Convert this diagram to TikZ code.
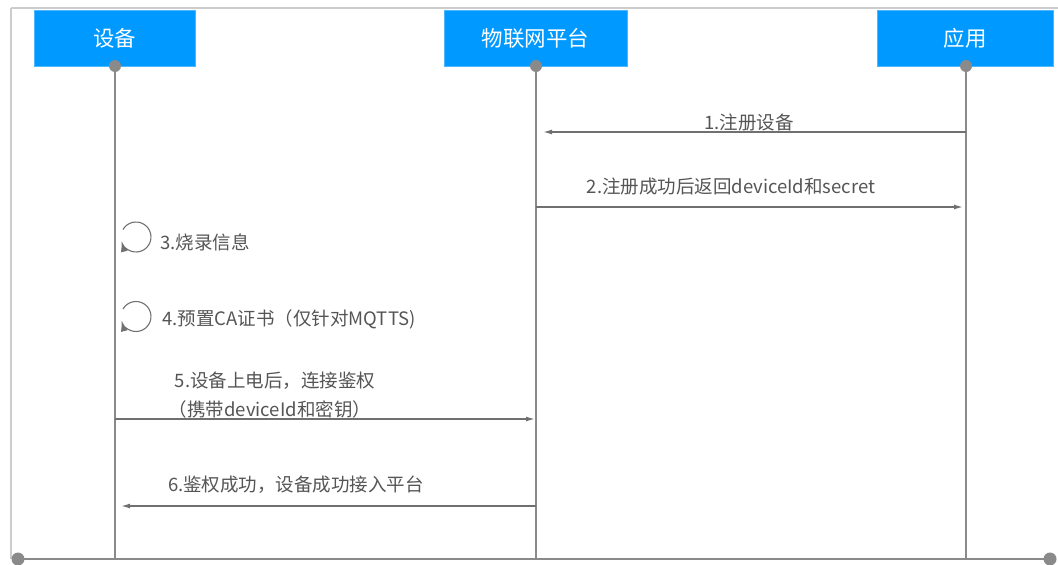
\documentclass[tikz,border=0pt]{standalone}
\usepackage{fontspec}
\setmainfont{Noto Sans CJK SC}
\usetikzlibrary{arrows.meta}
\definecolor{boxblue}{HTML}{0099FF}
\definecolor{lifegray}{HTML}{8A8A8A}
\definecolor{arrgray}{HTML}{707070}
\definecolor{txtgray}{HTML}{555555}
\definecolor{framegray}{HTML}{CCCCCC}
\tikzset{
  actor/.style={fill=boxblue, draw=boxblue!70!white, line width=0.6pt, text=white, font=\fontsize{21.5}{25}\selectfont, inner sep=0pt},
  lifeline/.style={draw=lifegray, line width=2.4pt},
  dotmark/.style={fill=lifegray, draw=none},
  msg/.style={draw=arrgray, line width=1.4pt, -{Latex[length=9pt,width=5pt]}},
  loopmsg/.style={draw=arrgray, line width=1.1pt, -{Latex[length=11pt,width=7pt]}},
  lbl/.style={text=txtgray, font=\fontsize{18.5}{22}\selectfont, inner sep=0pt, align=center},
  frameline/.style={draw=framegray, line width=2pt},
}
\begin{document}
\begin{tikzpicture}[x=1pt,y=-1pt]
\useasboundingbox (0,0) rectangle (1058,565);
% frame
\draw[frameline] (10.5,7.5) -- (1058,7.5);
\draw[frameline] (10.5,7.5) -- (10.5,559);
% actors
\node[actor, minimum width=161pt, minimum height=56pt] (dev) at (114.5,38) {设备};
\node[actor, minimum width=183pt, minimum height=56pt] (plat) at (535.5,38) {物联网平台};
\node[actor, minimum width=176pt, minimum height=56pt] (app) at (965,38) {应用};
% lifeline ends
\coordinate (devtop) at (115,66);
\coordinate (plattop) at (536,66);
\coordinate (apptop) at (966,66);
\coordinate (devbot) at (115,559);
\coordinate (platbot) at (536,559);
\coordinate (appbot) at (966,559);
\coordinate (bl) at (18,559);
\coordinate (br) at (1050,559);
\draw[lifeline] (devtop) -- (devbot);
\draw[lifeline] (plattop) -- (platbot);
\draw[lifeline] (apptop) -- (appbot);
\draw[lifeline] (bl) -- (br);
\foreach \p in {devtop,plattop,apptop} \fill[dotmark] (\p) circle (6pt);
\foreach \p in {bl,br} \fill[dotmark] (\p) circle (6.5pt);
% message 1
\coordinate (m1s) at (966,132);
\coordinate (m1e) at (543,132);
\draw[msg] (m1s) -- (m1e);
\node[lbl] (l1) at (749,122) {1.注册设备};
% message 2
\coordinate (m2s) at (536,207);
\coordinate (m2e) at (963,207);
\draw[msg] (m2s) -- (m2e);
\node[lbl] (l2) at (731,186) {2.注册成功后返回deviceId和secret};
% self loops (center 136,237 and 136,317; radius 15)
\coordinate (s3) at (123,229.5);
\draw[loopmsg] (s3) arc[start angle=150, end angle=-165, radius=15pt];
\node[lbl, anchor=west] (l3) at (160,242) {3.烧录信息};
\coordinate (s4) at (123,309);
\draw[loopmsg] (s4) arc[start angle=150, end angle=-165, radius=15pt];
\node[lbl, anchor=west] (l4) at (162,319) {4.预置CA证书（仅针对MQTTS)};
% message 5
\coordinate (m5s) at (115,419);
\coordinate (m5e) at (535,419);
\draw[msg] (m5s) -- (m5e);
\node[lbl] (l5a) at (275,381) {5.设备上电后，连接鉴权};
\node[lbl] (l5b) at (270,409) {（携带deviceId和密钥）};
% message 6
\coordinate (m6s) at (536,506);
\coordinate (m6e) at (121,506);
\draw[msg] (m6s) -- (m6e);
\node[lbl] (l6) at (296,485) {6.鉴权成功，设备成功接入平台};
\end{tikzpicture}
\end{document}
